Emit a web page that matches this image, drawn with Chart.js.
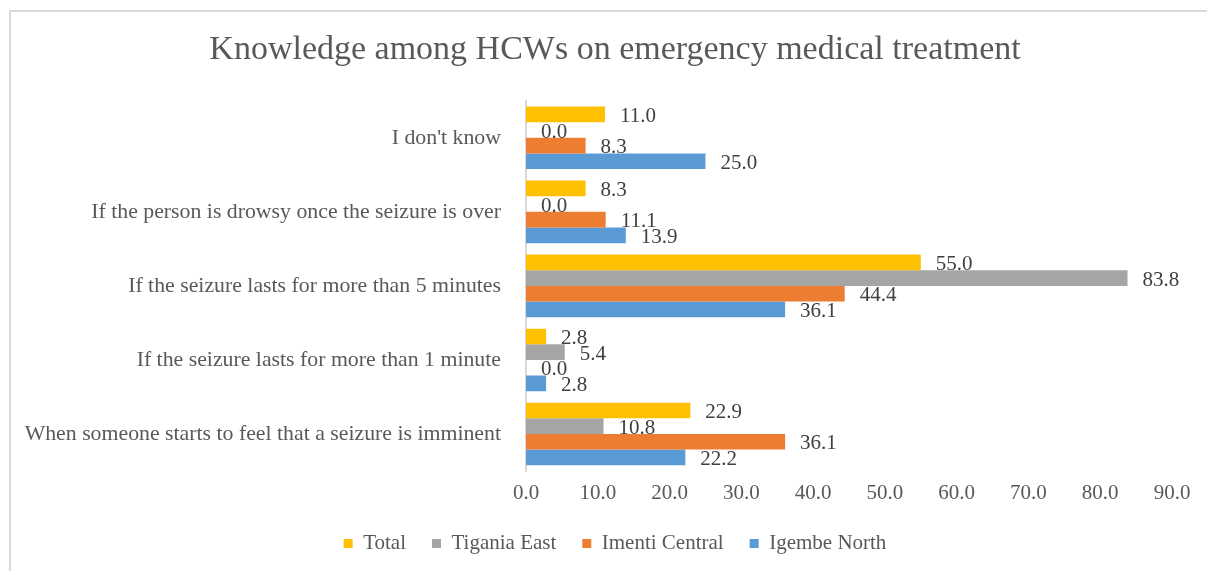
<!DOCTYPE html>
<html>
<head>
<meta charset="utf-8">
<script src="https://cdn.jsdelivr.net/npm/chart.js@4.4.1/dist/chart.umd.min.js"></script>
<style>
    html, body { margin: 0; padding: 0; overflow: hidden; background: #ffffff; }
    #frame {
        position: absolute; left: 9px; top: 10px;
        width: 1300px; height: 700px;
        border: 2px solid #d9d9d9;
    }
    #chart { position: absolute; left: 0; top: 0; }
</style>
</head>
<body>
<div id="frame"></div>
<!-- a bit wider than the window so title and legend centre on the framed area -->
<canvas id="chart" width="1230" height="571"></canvas>
<script>
const chartTitle = 'Knowledge among HCWs on emergency medical treatment';

// top to bottom, the way the reference lists them
const categories = [
    "I don't know",
    'If the person is drowsy once the seizure is over',
    'If the seizure lasts for more than 5 minutes',
    'If the seizure lasts for more than 1 minute',
    'When someone starts to feel that a seizure is imminent',
];

const seriesNames = ['Total', 'Tigania East', 'Imenti Central', 'Igembe North'];

const totalValues = [11.0, 8.3, 55.0, 2.8, 22.9];
const tiganiaEastValues = [0.0, 0.0, 83.8, 5.4, 10.8];
const imentiCentralValues = [8.3, 11.1, 44.4, 0.0, 36.1];
const igembeNorthValues = [25.0, 13.9, 36.1, 2.8, 22.2];

const xTickLabels = ['0.0', '10.0', '20.0', '30.0', '40.0', '50.0', '60.0', '70.0', '80.0', '90.0'];

const seriesColors = ['#FFC000', '#A5A5A5', '#ED7D31', '#5B9BD5'];
const serif = "'Liberation Serif', 'Times New Roman', serif";
const textGray = '#595959';

const allValues = [totalValues, tiganiaEastValues, imentiCentralValues, igembeNorthValues];

const datasets = seriesNames.map((name, i) => ({
    label: name,
    data: allValues[i],
    backgroundColor: seriesColors[i],
    borderWidth: 0,
    categoryPercentage: 0.845,
    barPercentage: 1.0,
}));

// value labels at the end of each bar
const valueLabels = {
    id: 'valueLabels',
    afterDatasetsDraw(chart) {
        const ctx = chart.ctx;
        ctx.save();
        ctx.font = '21px ' + serif;
        ctx.fillStyle = '#404040';
        ctx.textAlign = 'left';
        ctx.textBaseline = 'middle';
        chart.data.datasets.forEach((ds, di) => {
            const meta = chart.getDatasetMeta(di);
            meta.data.forEach((bar, i) => {
                ctx.fillText(ds.data[i].toFixed(1), bar.x + 15, bar.y + 2);
            });
        });
        ctx.restore();
    }
};

new Chart(document.getElementById('chart'), {
    type: 'bar',
    data: { labels: categories, datasets: datasets },
    plugins: [valueLabels],
    options: {
        indexAxis: 'y',
        responsive: false,
        animation: false,
        layout: { padding: { left: 0, right: 0, top: 0, bottom: 7 } },
        plugins: {
            title: {
                display: true,
                text: chartTitle,
                color: textGray,
                font: { family: serif, size: 34, weight: 'normal' },
                padding: { top: 30, bottom: 30 },
            },
            legend: {
                position: 'bottom',
                labels: {
                    color: textGray,
                    font: { family: serif, size: 21 },
                    boxWidth: 9,
                    boxHeight: 9,
                    padding: 26,
                },
            },
            tooltip: { enabled: false },
        },
        scales: {
            x: {
                min: 0,
                max: 90,
                grid: { display: false, drawTicks: false },
                border: { display: false },
                ticks: {
                    stepSize: 10,
                    padding: 10,
                    color: textGray,
                    font: { family: serif, size: 21 },
                    callback: (value, index) => xTickLabels[index],
                },
                afterFit: (scale) => { scale.height = 36; },
            },
            y: {
                grid: { display: false, drawTicks: false },
                border: { display: true, color: '#d9d9d9', width: 2 },
                ticks: {
                    padding: 25,
                    color: textGray,
                    font: { family: serif, size: 21.8 },
                },
                afterFit: (scale) => { scale.width = 526; },
            },
            // empty spacer on the right so the plot ends at 90.0 like the reference
            spacer: {
                type: 'linear',
                position: 'right',
                grid: { display: false, drawTicks: false },
                border: { display: false },
                ticks: { display: false },
                afterFit: (scale) => { scale.width = 58; },
            },
        },
    },
});
</script>
</body>
</html>
